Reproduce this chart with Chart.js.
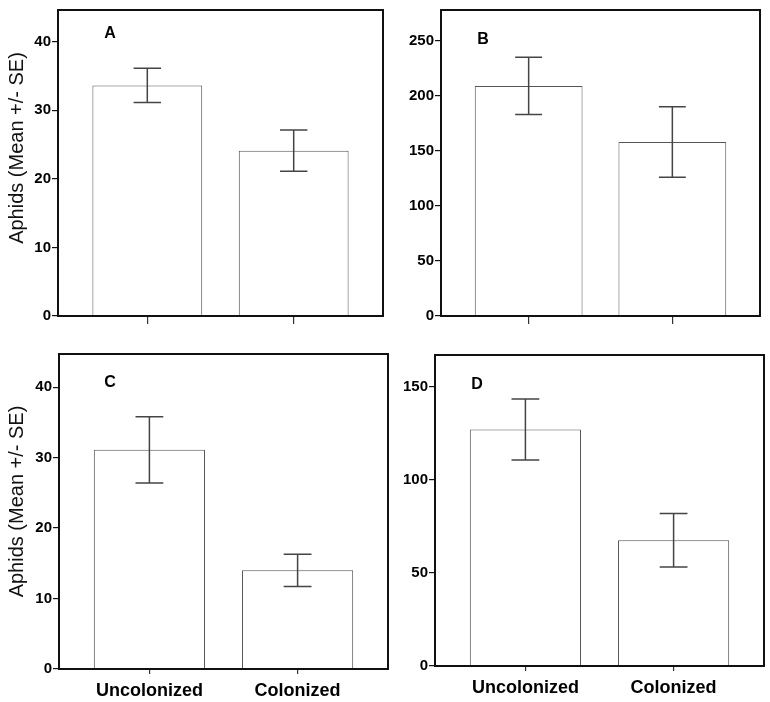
<!DOCTYPE html>
<html>
<head>
<meta charset="utf-8">
<script src="https://cdn.jsdelivr.net/npm/chart.js@4"></script>
<style>
  body { margin: 0; background: #fff; }
  .panel { position: absolute; }
</style>
</head>
<body>
<div class="panel" style="left:0;top:0;width:390px;height:340px"><canvas id="chartA"></canvas></div>
<div class="panel" style="left:385px;top:0;width:385px;height:340px"><canvas id="chartB"></canvas></div>
<div class="panel" style="left:0;top:340px;width:390px;height:362px"><canvas id="chartC"></canvas></div>
<div class="panel" style="left:385px;top:340px;width:385px;height:362px"><canvas id="chartD"></canvas></div>
<script>
// 처리군
const categories = ['Uncolonized', 'Colonized'];
const yTitle = 'Aphids (Mean +/- SE)';

// panel values (mean, SE)
const meansA = [33.6, 24.1];
const seA = [2.5, 3.0];
const meansB = [209, 158];
const seB = [26, 32];
const meansC = [31.1, 14.0];
const seC = [4.7, 2.3];
const meansD = [127, 67.5];
const seD = [16.4, 14.4];

const ticksA = [0, 10, 20, 30, 40];
const ticksB = [0, 50, 100, 150, 200, 250];
const ticksC = [0, 10, 20, 30, 40];
const ticksD = [0, 50, 100, 150];

const tickFont = { family: '"Liberation Sans Narrow", "Liberation Sans", Arial, sans-serif', size: 15, weight: 'bold' };

const frame = {
  id: 'frame',
  afterDatasetsDraw(chart) {
    const { ctx, chartArea: a } = chart;
    ctx.save();
    ctx.strokeStyle = '#111';
    ctx.lineWidth = 2;
    ctx.strokeRect(a.left, a.top, a.right - a.left, a.bottom - a.top);
    ctx.restore();
  }
};

const errorBars = {
  id: 'errorBars',
  afterDatasetsDraw(chart) {
    const { ctx } = chart;
    const y = chart.scales.y;
    const se = chart.options.plugins.errorBars.se;
    const means = chart.data.datasets[0].data;
    ctx.save();
    ctx.strokeStyle = '#444';
    ctx.lineWidth = 1.5;
    chart.getDatasetMeta(0).data.forEach((bar, i) => {
      const m = means[i].y;
      const top = y.getPixelForValue(m + se[i]);
      const bot = y.getPixelForValue(m - se[i]);
      const half = bar.width * 0.125;
      ctx.beginPath();
      ctx.moveTo(bar.x, top); ctx.lineTo(bar.x, bot);
      ctx.moveTo(bar.x - half, top); ctx.lineTo(bar.x + half, top);
      ctx.moveTo(bar.x - half, bot); ctx.lineTo(bar.x + half, bot);
      ctx.stroke();
    });
    ctx.restore();
  }
};

// panel letter + rotated y title
const labels = {
  id: 'labels',
  afterDraw(chart) {
    const o = chart.options.plugins.labels;
    const { ctx, chartArea: a } = chart;
    ctx.save();
    ctx.font = 'bold 16px "Liberation Sans", Arial, sans-serif';
    ctx.fillStyle = '#000';
    ctx.textAlign = 'center';
    ctx.textBaseline = 'middle';
    ctx.fillText(o.text, a.left + o.dx, a.top + o.dy);
    if (o.ytitle) {
      ctx.translate(17, (a.top + a.bottom) / 2 + o.tdy);
      ctx.rotate(-Math.PI / 2);
      ctx.font = '20px "Liberation Sans", Arial, sans-serif';
      ctx.fillStyle = '#111';
      ctx.fillText(yTitle, 0, 0);
    }
    ctx.restore();
  }
};

function makePanel(id, means, se, yTicks, yMax, p) {
  new Chart(document.getElementById(id), {
    type: 'bar',
    data: {
      datasets: [{
        data: means.map((v, i) => ({ x: i, y: v })),
        backgroundColor: '#fff',
        borderColor: '#555',
        borderWidth: 1,
        barPercentage: 0.75,
        categoryPercentage: 1
      }]
    },
    options: {
      responsive: true,
      maintainAspectRatio: false,
      animation: false,
      layout: { padding: { top: p.top, right: p.right, left: 0, bottom: 0 } },
      plugins: {
        legend: { display: false },
        tooltip: { enabled: false },
        errorBars: { se },
        labels: { text: p.letter, dx: p.dx, dy: p.dy, ytitle: p.ytitle, tdy: p.tdy }
      },
      scales: {
        x: {
          type: 'linear',
          min: -0.61,
          max: 1.61,
          offset: false,
          afterBuildTicks: s => { s.ticks = categories.map((c, i) => ({ value: i })); },
          afterFit: s => { s.height = p.xh; },
          grid: { drawOnChartArea: false, offset: false, tickLength: p.xtick, color: '#333', lineWidth: 1.2 },
          border: { display: false },
          ticks: {
            padding: 6,
            color: '#000',
            font: { family: '"Liberation Sans", Arial, sans-serif', size: 18, weight: 'bold' },
            callback: v => p.xlabels ? categories[v] : ''
          }
        },
        y: {
          min: 0,
          max: yMax,
          afterBuildTicks: s => { s.ticks = yTicks.map(v => ({ value: v })); },
          afterFit: s => { s.width = p.yw; },
          grid: { drawOnChartArea: false, tickLength: 6, color: '#111', lineWidth: 1.2 },
          border: { display: true, color: '#111', width: 2 },
          ticks: { padding: 1, color: '#000', font: tickFont }
        }
      }
    },
    plugins: [errorBars, frame, labels]
  });
}

makePanel('chartA', meansA, seA, ticksA, 44.6,
  { top: 4, right: 7, xh: 24, yw: 58, xtick: 8, xlabels: false, ytitle: true, tdy: -15, letter: 'A', dx: 52, dy: 24 });
makePanel('chartB', meansB, seB, ticksB, 278,
  { top: 5, right: 10, xh: 24, yw: 56, xtick: 8, xlabels: false, ytitle: false, letter: 'B', dx: 42, dy: 30 });
makePanel('chartC', meansC, seC, ticksC, 44.7,
  { top: 14, right: 2, xh: 33, yw: 59, xtick: 5, xlabels: true, ytitle: true, tdy: -10, letter: 'C', dx: 51, dy: 29 });
makePanel('chartD', meansD, seD, ticksD, 167,
  { top: 15, right: 6, xh: 36, yw: 50, xtick: 5, xlabels: true, ytitle: false, letter: 'D', dx: 42, dy: 30 });
</script>
</body>
</html>
